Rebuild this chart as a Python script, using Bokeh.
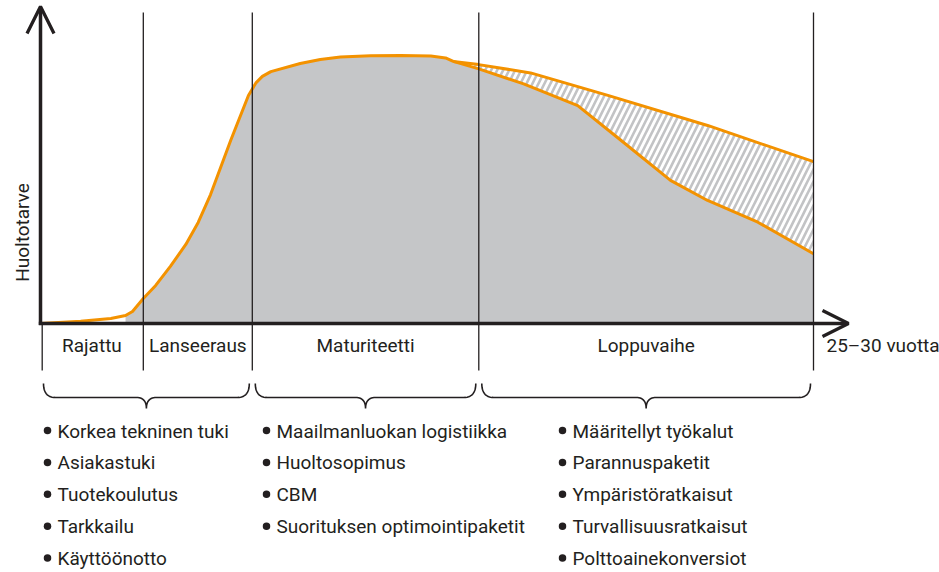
import numpy as np
from bokeh.plotting import figure
from bokeh.models import Range1d, Arrow, OpenHead
from bokeh.core.properties import value
from bokeh.embed import file_html
from bokeh.resources import INLINE

# ---------------- data ----------------
# main life-cycle curve (time 0..100, demand 0..100) up to the fork
curve_x = [0, 5.2, 9.1, 11.0, 11.9, 13.3, 14.9, 16.8, 18.8, 20.4, 22.0, 24.6, 26.9, 27.9, 28.7, 29.8,
           33.6, 36.2, 38.8, 42.7, 46.6, 50.5, 52.4, 53.4]
curve_y = [0, 0.8, 1.9, 3.0, 4.5, 9.3, 14.2, 21.3, 29.5, 37.7, 48.1, 68.3, 85.1, 89.9, 92.2, 94.0,
           97.0, 98.5, 99.4, 99.9, 100.0, 99.8, 99.1, 97.8]
# decline without services (lower branch)
base_x = [56.7, 62.5, 69.5, 74.6, 81.5, 86.3, 92.8, 100]
base_y = [95.0, 89.4, 81.3, 69.5, 53.4, 45.9, 37.8, 26.0]
# extended life with services (upper branch)
ext_x = [53.4, 56.7, 63.4, 73.4, 86.3, 100]
ext_y = [97.8, 96.6, 93.5, 85.1, 73.9, 60.4]
fill_start = 11.0

phase_edges = [0, 13.3, 27.4, 56.7, 100]
phase_names = ["Rajattu", "Lanseeraus", "Maturiteetti", "Loppuvaihe"]
brace_spans = [(0, 2), (2, 3), (3, 4)]
group_items = [
    ["Korkea tekninen tuki", "Asiakastuki", "Tuotekoulutus", "Tarkkailu", "Käyttöönotto"],
    ["Maailmanluokan logistiikka", "Huoltosopimus", "CBM", "Suorituksen optimointipaketit"],
    ["Määritellyt työkalut", "Parannuspaketit", "Ympäristöratkaisut", "Turvallisuusratkaisut", "Polttoainekonversiot"],
]
y_label = "Huoltotarve"
x_end_label = "25–30 vuotta"

# ---------------- layout ----------------
W, H = 939, 572
SX, SY = 7.73, 2.68          # pixels per data unit
OXP, OYP = 40, 323           # page pixel of the origin
TXT_SHIFT = 7                # baseline correction for text glyphs

def X(p):
    return (p - OXP) / SX

def Y(p):
    return (OYP - p) / SY

def P(x):
    return OXP + x * SX

DARK = "#231f20"
ORANGE = "#f39200"
GRAY = "#c5c6c8"
FONT = "Roboto"
LBL = "19px"
ITM = "19px"

p = figure(width=W, height=H, output_backend="svg", toolbar_location=None,
           x_range=Range1d(X(0), X(W)), y_range=Range1d(Y(H), Y(0)),
           x_axis_location=None, y_axis_location=None, min_border=0,
           background_fill_color="white", border_fill_color="white")
p.grid.visible = False
p.outline_line_color = None

# gray area under the curve
fx = [x for x in curve_x if x >= fill_start] + base_x + [base_x[-1], fill_start]
fy = [y for x, y in zip(curve_x, curve_y) if x >= fill_start] + base_y + [0, 0]
p.patch(fx, fy, fill_color=GRAY, line_color=None)

# hatched gain area
hx = ext_x + base_x[::-1] + [ext_x[0]]
hy = ext_y + base_y[::-1] + [ext_y[0]]
p.patch(hx, hy, fill_color="white", line_color=None,
        hatch_pattern="/", hatch_color="#c2c3c5", hatch_scale=12, hatch_weight=2.6)

# orange curves
p.line(curve_x + base_x, curve_y + base_y, line_color=ORANGE, line_width=3, line_join="round")
p.line(ext_x, ext_y, line_color=ORANGE, line_width=3, line_join="round")

# phase boundaries
inner = phase_edges[1:]
p.segment(x0=inner, y0=[Y(370)] * len(inner), x1=inner, y1=[Y(12)] * len(inner),
          line_color=DARK, line_width=1.3)
p.segment(x0=[phase_edges[0] + X(41.7)], y0=[Y(323)], x1=[phase_edges[0] + X(41.7)], y1=[Y(370)],
          line_color=DARK, line_width=1.3)

# axes with arrows
p.add_layout(Arrow(end=OpenHead(size=27, line_width=3.3, line_color=DARK),
                   x_start=0, y_start=Y(324.6), x_end=0, y_end=Y(6),
                   line_width=3.5, line_color=DARK))
p.add_layout(Arrow(end=OpenHead(size=26, line_width=3.3, line_color=DARK),
                   x_start=X(38.3), y_start=0, x_end=X(848), y_end=0,
                   line_width=3.3, line_color=DARK))

# phase labels
mids = [(a + b) / 2 for a, b in zip(phase_edges[:-1], phase_edges[1:])]
p.text(x=mids, y=[Y(352 - TXT_SHIFT)] * len(mids), text=phase_names, text_font=value(FONT),
       text_font_size=LBL, text_color=DARK, text_align="center", text_baseline="alphabetic")
p.text(x=[X(826)], y=[Y(352 - TXT_SHIFT)], text=[x_end_label], text_font=value(FONT),
       text_font_size=LBL, text_color=DARK, text_align="left", text_baseline="alphabetic")
p.text(x=[X(22)], y=[Y(232)], text=[y_label], angle=np.pi / 2, text_font=value(FONT),
       text_font_size=LBL, text_color=DARK, text_align="center", text_baseline="middle")

# braces
def quad(p0, c, p1, n=14):
    t = np.linspace(0, 1, n)[:, None]
    return (1 - t) ** 2 * np.array(p0) + 2 * (1 - t) * t * np.array(c) + t ** 2 * np.array(p1)

ytop, ymid, ytip, r, rc = 383, 397, 408, 12, 10
bxs, bys = [], []
for i0, i1 in brace_spans:
    a = P(phase_edges[i0]) + 3
    b = P(phase_edges[i1]) - 3
    c = (a + b) / 2
    pts = np.vstack([
        quad((a, ytop), (a, ymid), (a + r, ymid)),
        quad((c - rc, ymid), (c, ymid), (c, ytip)),
        quad((c, ytip), (c, ymid), (c + rc, ymid)),
        quad((b - r, ymid), (b, ymid), (b, ytop)),
    ])
    bxs.append([X(v) for v in pts[:, 0]])
    bys.append([Y(v) for v in pts[:, 1]])
p.multi_line(bxs, bys, line_color=DARK, line_width=1.6)

# bullet lists
col_px = [57, 276, 572]
tx, ty, tt, bx, by = [], [], [], [], []
for cx, items in zip(col_px, group_items):
    for k, item in enumerate(items):
        base = 437.5 + 31.9 * k
        bx.append(X(cx - 10))
        by.append(Y(base - 7.5))
        tx.append(X(cx))
        ty.append(Y(base - TXT_SHIFT))
        tt.append(item)
p.scatter(bx, by, size=7.5, marker="circle", fill_color=DARK, line_color=None)
p.text(x=tx, y=ty, text=tt, text_font=value(FONT), text_font_size=ITM,
       text_color=DARK, text_align="left", text_baseline="alphabetic")

open("out.html", "w").write(file_html(p, INLINE))
